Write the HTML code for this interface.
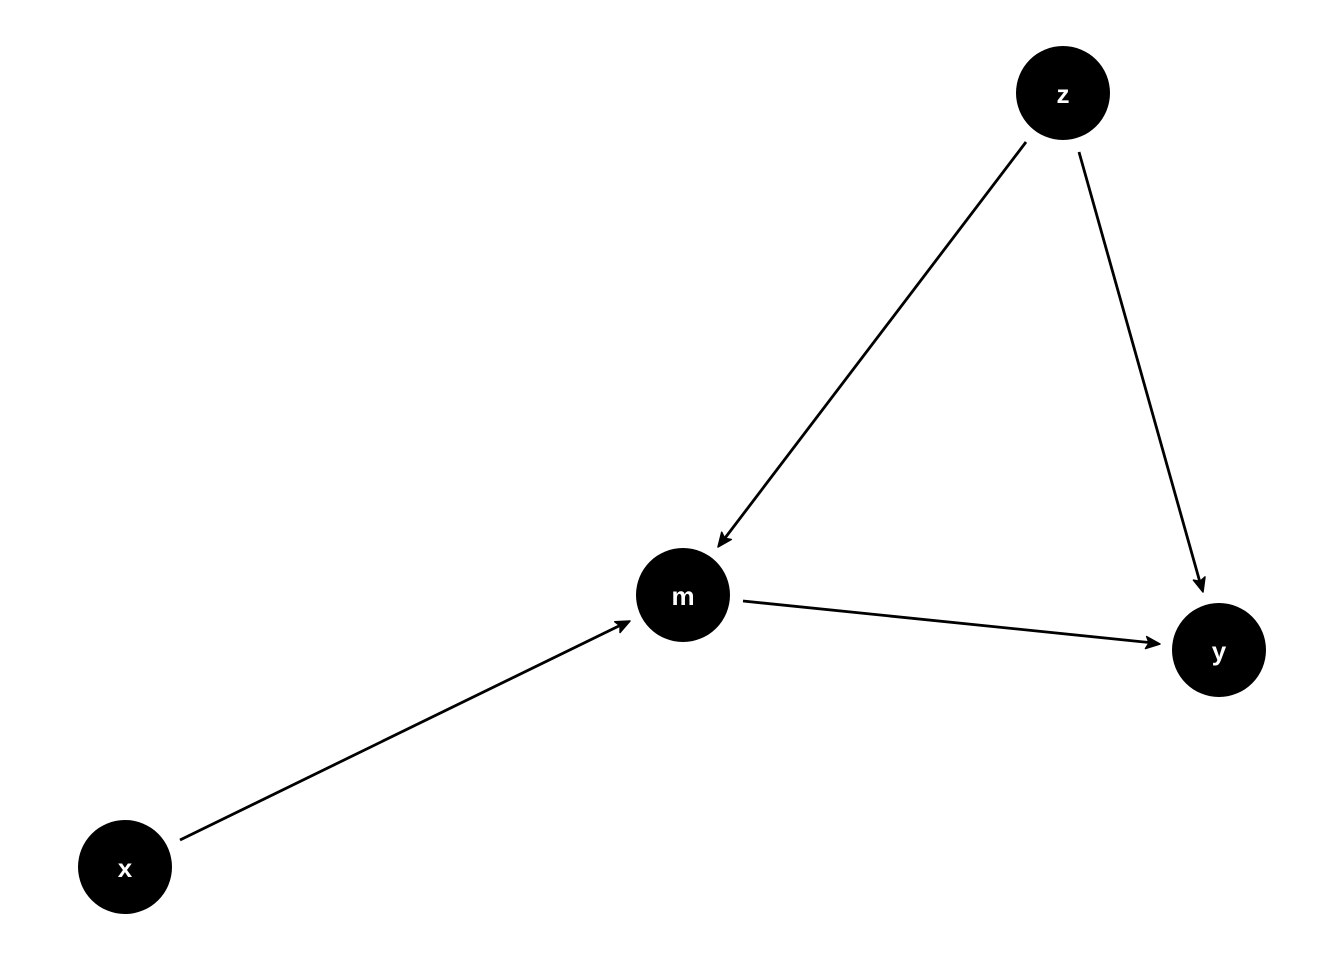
<!DOCTYPE html>
<html><head><style>body{margin:0;background:#fff}</style></head><body>
<svg width="1344" height="960" xmlns="http://www.w3.org/2000/svg">
<g stroke="#000" stroke-width="2.8" fill="none">
<line x1="1026" y1="142" x2="722" y2="542"/>
<line x1="1079" y1="152" x2="1201" y2="586"/>
<line x1="743" y1="601" x2="1154" y2="643"/>
<line x1="180" y1="840" x2="625" y2="623"/>
</g>
<g fill="#000" stroke="#000" stroke-width="1.5" stroke-linejoin="round">
<path transform="translate(718,547) rotate(127.25)" d="M0,0 L-14,-6 L-11,0 L-14,6 Z"/>
<path transform="translate(1203,592) rotate(74.26)" d="M0,0 L-14,-6 L-11,0 L-14,6 Z"/>
<path transform="translate(1160,644) rotate(5.89)" d="M0,0 L-14,-6 L-11,0 L-14,6 Z"/>
<path transform="translate(630,621) rotate(-25.95)" d="M0,0 L-14,-6 L-11,0 L-14,6 Z"/>
</g>
<g fill="#000"><circle cx="1063" cy="93" r="47"/><circle cx="683" cy="595" r="47"/><circle cx="1219" cy="650" r="47"/><circle cx="125" cy="867" r="47"/></g>
<g fill="#fff" font-family="Liberation Sans, sans-serif" font-weight="bold" font-size="26" text-anchor="middle">
<text x="1063" y="103">z</text><text x="683" y="605">m</text><text x="1219" y="660">y</text><text x="125" y="877">x</text></g>
</svg></body></html>
